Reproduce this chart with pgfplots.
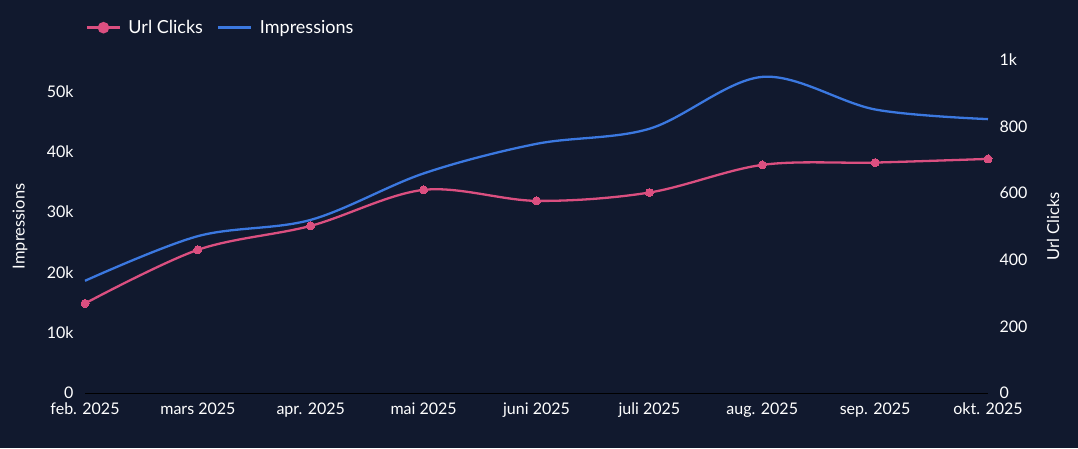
\documentclass[border=0pt]{standalone}
\usepackage{pgfplots}
\pgfplotsset{compat=1.18}
\usepackage{fontspec}
\setmainfont{Lato}
\definecolor{bg}{RGB}{17,25,46}
\definecolor{pinkc}{RGB}{219,79,128}
\definecolor{bluec}{RGB}{59,120,224}
\begin{document}
\begin{tikzpicture}
\path[use as bounding box, fill=bg] (0,0) rectangle (1078pt,448pt);
\pgfplotsset{common/.style={
  scale only axis, width=903pt, height=333pt,
  at={(85pt,55pt)}, anchor=south west,
  xmin=0, xmax=8, xtick={0,...,8},
  major tick length=0pt, clip=false,
  scaled y ticks=false,
  /pgf/number format/assume math mode=true,
  tick label style={font=\fontsize{16}{19}\selectfont, text=white},
  label style={font=\fontsize{16.5}{19}\selectfont, text=white},
}}
% Left axis: Impressions
\begin{axis}[common,
  axis x line*=bottom, axis y line*=left,
  x axis line style={black, line width=1pt, -},
  y axis line style={draw=none},
  ymin=0, ymax=55200,
  ytick={0,10000,20000,30000,40000,50000},
  yticklabels={0,10k,20k,30k,40k,50k},
  yticklabel style={xshift=-8pt},
  xticklabels={feb. 2025,mars 2025,apr. 2025,mai 2025,juni 2025,juli 2025,aug. 2025,sep. 2025,okt. 2025},
  xticklabel style={yshift=-6pt},
  ylabel={Impressions},
  ylabel style={at={(axis description cs:-0.072,0.5)}, anchor=center},
]
\addplot[bluec, line width=2.3pt, smooth, tension=0.55, no marks] coordinates {
(0,18600) (1,26000) (2,28700) (3,36400) (4,41300) (5,43800) (6,52400) (7,47000) (8,45400)
};
\end{axis}
% Right axis: Url Clicks
\begin{axis}[common,
  axis x line=none, axis y line*=right,
  y axis line style={draw=none},
  ymin=0, ymax=1000,
  ytick={0,200,400,600,800,1000},
  yticklabels={0,200,400,600,800,1k},
  yticklabel style={xshift=8pt},
  xticklabels={},
  ylabel={Url Clicks},
  ylabel style={at={(axis description cs:1.072,0.5)}, anchor=center},
  legend columns=2,
  legend style={at={(axis description cs:-0.003,1.097)}, anchor=west, draw=none, fill=none,
    text=white, font=\fontsize{18}{21}\selectfont,
    /tikz/every odd column/.append style={column sep=5pt},
    /tikz/every even column/.append style={column sep=12pt}},
  legend image code/.code={
    \draw[pinkc, line width=3pt] (0pt,0pt) -- (33pt,0pt);
    \fill[pinkc] (16.5pt,0pt) circle (4.6pt);
  },
]
\addplot[pinkc, line width=2.3pt, smooth, tension=0.55, mark=*, mark size=4pt, mark options={fill=pinkc, draw=pinkc, line width=0pt}] coordinates {
(0,269) (1,430) (2,502) (3,610) (4,577) (5,602) (6,685) (7,692) (8,703)
};
\addlegendentry{Url Clicks}
\addlegendimage{legend image code/.code={\draw[bluec, line width=3pt] (0pt,0pt) -- (33pt,0pt);}}
\addlegendentry{Impressions}
\end{axis}
\end{tikzpicture}
\end{document}
